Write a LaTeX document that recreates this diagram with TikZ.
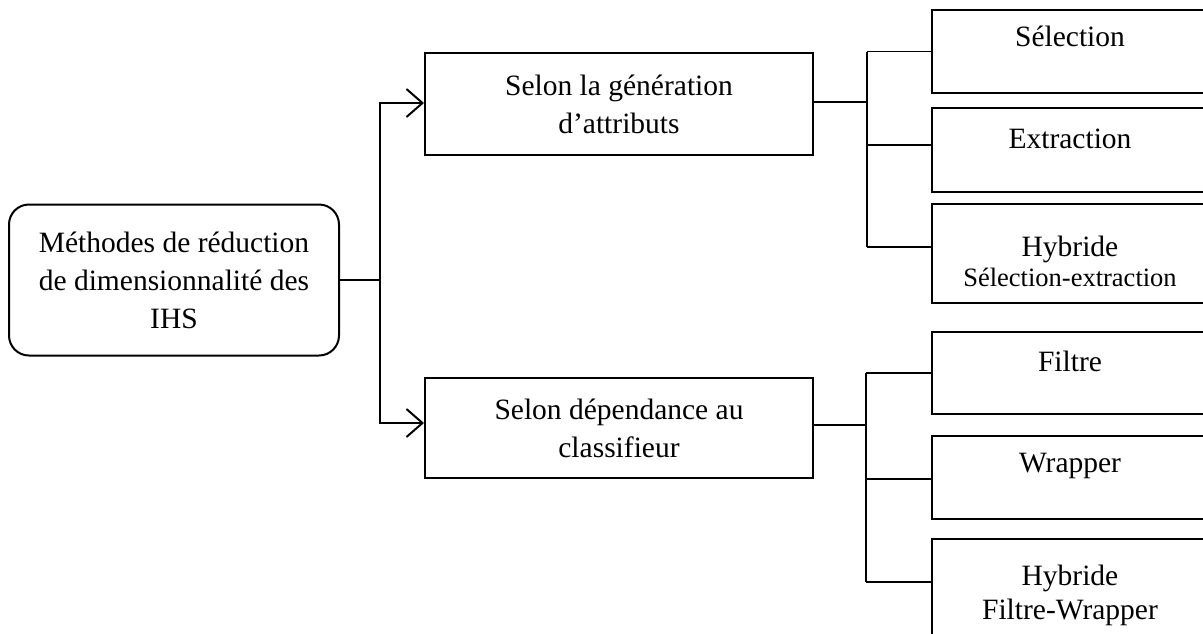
\documentclass[tikz,border=0pt]{standalone}
\usepackage{fontspec}
\setmainfont{Liberation Serif}
\usetikzlibrary{arrows.meta,positioning,calc}

\tikzset{
  txt/.style={font=\fontsize{29.5}{38}\selectfont, align=center, inner sep=0pt},
  smalltxt/.style={font=\fontsize{26.5}{34}\selectfont, align=center, inner sep=0pt},
  rootbox/.style={draw, line width=2pt, rounded corners=20pt, txt,
                  minimum width=330pt, minimum height=151pt},
  midbox/.style={draw, line width=2pt, txt, minimum width=388pt},
  leafbox/.style={draw, line width=2pt, minimum width=276pt, inner sep=0pt},
  link/.style={line width=1.5pt},
  arrowlink/.style={line width=1.5pt, -{Straight Barb[length=16pt,width=28pt,line width=2pt]}}
}

\begin{document}
\begin{tikzpicture}[x=1pt,y=-1pt]
\useasboundingbox (0,0) rectangle (1203,633);
\clip (0,0) rectangle (1203,633);

% root of the classification
\node[rootbox] (root) at (174,280)
  {Méthodes de réduction\\de dimensionnalité des\\IHS};

% two criteria
\node[midbox, minimum height=102pt] (gen) at (619,104)
  {Selon la génération\\d’attributs};
\node[midbox, minimum height=100pt] (dep) at (619,428)
  {Selon dépendance au\\classifieur};

% leaves of the first criterion
\node[leafbox, minimum height=83pt]  (sel)  at (1070,51.5)  {};
\node[leafbox, minimum height=84pt]  (ext)  at (1070,150)   {};
\node[leafbox, minimum height=99pt]  (hyb1) at (1070,253.5) {};
% leaves of the second criterion
\node[leafbox, minimum height=82pt]  (fil)  at (1070,373)   {};
\node[leafbox, minimum height=83pt]  (wra)  at (1070,477.5) {};
\node[leafbox, minimum height=130pt] (hyb2) at (1070,604)   {};

% leaf labels
\node[txt] at ([yshift=-27pt]sel.north)  {Sélection};
\node[txt] at ([yshift=-32pt]ext.north)  {Extraction};
\node[txt] at ([yshift=-46pt]hyb1.north) {Hybride};
\node[smalltxt] at ([yshift=-74pt]hyb1.north) {Sélection-extraction};
\node[txt] at ([yshift=-30pt]fil.north)  {Filtre};
\node[txt] at ([yshift=-31pt]wra.north)  {Wrapper};
\node[txt] at ([yshift=-40pt]hyb2.north) {Hybride};
\node[txt] at ([yshift=-74pt]hyb2.north) {Filtre-Wrapper};

% attachment points on the left sides of the leaves
\coordinate (pSel)  at (sel.west);
\coordinate (pExt)  at ([yshift=5pt]ext.west);
\coordinate (pHyb1) at ([yshift=6.5pt]hyb1.west);
\coordinate (pFil)  at (fil.west);
\coordinate (pWra)  at ([yshift=-1.5pt]wra.west);
\coordinate (pHyb2) at ([yshift=22pt]hyb2.west);

% root to criteria
\coordinate (jr) at (380,280);
\draw[link] (root.east) -- (jr);
\draw[arrowlink] (jr) |- ([yshift=1pt]gen.west);
\draw[arrowlink] (jr) |- ([yshift=5pt]dep.west);

% first criterion to its leaves
\coordinate (ja) at (867,102);
\draw[link] ([yshift=2pt]gen.east) -- (ja);
\draw[link] (ja |- pSel) -- (ja |- pHyb1);
\draw[link] (ja |- pSel) -- (pSel);
\draw[link] (ja |- pExt) -- (pExt);
\draw[link] (ja |- pHyb1) -- (pHyb1);

% second criterion to its leaves
\coordinate (jb) at (866,425);
\draw[link] ([yshift=3pt]dep.east) -- (jb);
\draw[link] (jb |- pFil) -- (jb |- pHyb2);
\draw[link] (jb |- pFil) -- (pFil);
\draw[link] (jb |- pWra) -- (pWra);
\draw[link] (jb |- pHyb2) -- (pHyb2);
\end{tikzpicture}
\end{document}
